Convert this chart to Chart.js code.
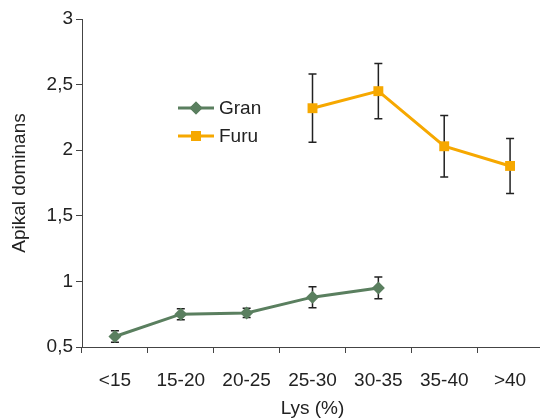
<!DOCTYPE html>
<html>
<head>
<meta charset="utf-8">
<script src="https://cdn.jsdelivr.net/npm/chart.js@4"></script>
<style>
  html, body { margin: 0; padding: 0; background: #fff; overflow: hidden; }
  #wrap { width: 550px; height: 418px; }
</style>
</head>
<body>
<div id="wrap"><canvas id="cv" width="550" height="418"></canvas></div>
<script>
const labels = ["<15", "15-20", "20-25", "25-30", "30-35", "35-40", ">40"];
const granVals = [0.58, 0.75, 0.76, 0.88, 0.95, null, null];
const granErr = [0.043, 0.042, 0.035, 0.08, 0.083, null, null];
const furuVals = [null, null, null, 2.32, 2.45, 2.03, 1.88];
const furuErr = [null, null, null, 0.26, 0.21, 0.235, 0.21];
const yTicks = [0.5, 1, 1.5, 2, 2.5, 3];

const GREEN = "#5a7f5f";
const ORANGE = "#f6a800";
const TXT = "#222";
const FONT = "'Liberation Sans', Arial, sans-serif";

const errBars = {
  id: "errBars",
  beforeDatasetsDraw(chart) {
    const { ctx, scales: { x, y } } = chart;
    const sets = [[granVals, granErr], [furuVals, furuErr]];
    ctx.save();
    ctx.strokeStyle = "#222";
    ctx.lineWidth = 1.5;
    sets.forEach(([vals, errs]) => {
      vals.forEach((v, i) => {
        if (v == null) return;
        const px = x.getPixelForValue(i);
        const top = y.getPixelForValue(v + errs[i]);
        const bot = y.getPixelForValue(v - errs[i]);
        ctx.beginPath();
        ctx.moveTo(px, top); ctx.lineTo(px, bot);
        ctx.moveTo(px - 4, top); ctx.lineTo(px + 4, top);
        ctx.moveTo(px - 4, bot); ctx.lineTo(px + 4, bot);
        ctx.stroke();
      });
    });
    ctx.restore();
  }
};

const legendBox = {
  id: "legendBox",
  afterDraw(chart) {
    const { ctx } = chart;
    const items = [
      { text: "Gran", color: GREEN, style: "rectRot", r: 6.5, y: 108 },
      { text: "Furu", color: ORANGE, style: "rect", r: 7, y: 136 }
    ];
    ctx.save();
    items.forEach(it => {
      ctx.strokeStyle = it.color;
      ctx.lineWidth = 3;
      ctx.beginPath();
      ctx.moveTo(178, it.y); ctx.lineTo(214, it.y);
      ctx.stroke();
      ctx.fillStyle = it.color;
      Chart.helpers.drawPoint(ctx, { pointStyle: it.style, radius: it.r, borderWidth: 0 }, 196, it.y);
      ctx.fill();
      ctx.fillStyle = TXT;
      ctx.font = "19px " + FONT;
      ctx.textBaseline = "middle";
      ctx.fillText(it.text, 219, it.y + 1);
    });
    ctx.restore();
  }
};

new Chart(document.getElementById("cv"), {
  type: "line",
  data: {
    labels: labels,
    datasets: [
      {
        label: "Gran",
        data: granVals,
        borderColor: GREEN,
        backgroundColor: GREEN,
        borderWidth: 3,
        pointStyle: "rectRot",
        pointRadius: 6.5,
        pointBorderWidth: 0,
        tension: 0
      },
      {
        label: "Furu",
        data: furuVals,
        borderColor: ORANGE,
        backgroundColor: ORANGE,
        borderWidth: 3,
        pointStyle: "rect",
        pointRadius: 7,
        pointBorderWidth: 0,
        tension: 0
      }
    ]
  },
  options: {
    responsive: false,
    animation: false,
    layout: { padding: { top: 19, right: 1, left: 0, bottom: 0 } },
    plugins: {
      legend: { display: false },
      tooltip: { enabled: false }
    },
    scales: {
      x: {
        offset: true,
        grid: { offset: true, drawOnChartArea: false, tickLength: 6, color: "#444" },
        border: { color: "#444", width: 1 },
        ticks: { color: TXT, font: { size: 19, family: FONT }, padding: 16 },
        title: {
          display: true, text: "Lys (%)", color: TXT,
          font: { size: 19, family: FONT, lineHeight: 1 },
          padding: { top: 4, bottom: 0 }
        },
        afterFit: s => { s.height = 71; }
      },
      y: {
        min: 0.5,
        max: 3,
        afterBuildTicks: s => { s.ticks = yTicks.map(v => ({ value: v })); },
        grid: { drawOnChartArea: false, tickLength: 6, color: "#444" },
        border: { color: "#444", width: 1 },
        ticks: {
          color: TXT,
          font: { size: 19, family: FONT },
          padding: 3,
          callback: v => String(v).replace(".", ",")
        },
        title: {
          display: true, text: "Apikal dominans", color: TXT,
          font: { size: 19, family: FONT, lineHeight: 1 },
          padding: { top: 10, bottom: 0 }
        },
        afterFit: s => { s.width = 82; }
      }
    }
  },
  plugins: [errBars, legendBox]
});
</script>
</body>
</html>
